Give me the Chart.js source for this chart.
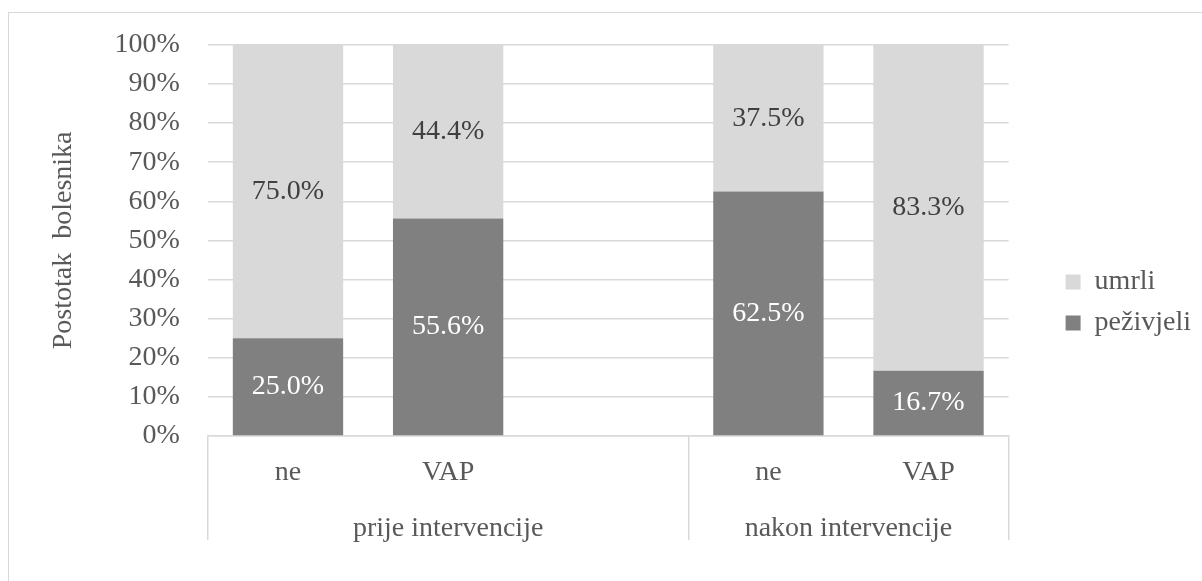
<!DOCTYPE html>
<html>
<head>
<meta charset="utf-8">
<script src="https://cdn.jsdelivr.net/npm/chart.js@4/dist/chart.umd.min.js"></script>
<style>
  html, body { margin: 0; padding: 0; background: #ffffff; overflow: hidden; }
  #frame { position: absolute; left: 8px; top: 12px; width: 1400px; height: 800px;
           border: 1.5px solid #d9d9d9; box-sizing: border-box; }
  #c { position: absolute; left: 0; top: 0; }
</style>
</head>
<body>
<div id="frame"></div>
<canvas id="c" width="1202" height="581"></canvas>
<script>
// ---- data ----
const groups = ['prije intervencije', 'nakon intervencije'];
const categories = ['ne', 'VAP', '', 'ne', 'VAP'];
const categoryGroup = [0, 0, 0, 1, 1];
const prezivjeli = [25.0, 55.6, null, 62.5, 16.7];
const umrli = [75.0, 44.4, null, 37.5, 83.3];
const seriesNames = ['peživjeli', 'umrli'];
const yTickValues = [0, 10, 20, 30, 40, 50, 60, 70, 80, 90, 100];
const yTitle = 'Postotak  bolesnika';

// ---- styling ----
const FONT = '"Liberation Serif", "Times New Roman", serif';
const FS = 28;
const TXT = '#595959';
const GRID = '#d9d9d9';
const DARK = '#808080';
const LIGHT = '#d9d9d9';

// group centres derived from category membership
const groupCenters = groups.map((g, gi) => {
  const idx = categoryGroup.map((v, i) => v === gi ? i : null).filter(v => v !== null);
  return (Math.min(...idx) + Math.max(...idx)) / 2;
});

const valueLabels = {
  id: 'valueLabels',
  afterDatasetsDraw(chart) {
    const ctx = chart.ctx;
    ctx.save();
    ctx.font = FS + 'px ' + FONT;
    ctx.textAlign = 'center';
    ctx.textBaseline = 'middle';
    chart.data.datasets.forEach((ds, di) => {
      const meta = chart.getDatasetMeta(di);
      meta.data.forEach((el, i) => {
        const v = ds.data[i];
        if (v === null || v === undefined) return;
        const p = el.getProps(['x', 'y', 'base'], true);
        ctx.fillStyle = ds.labelColor;
        ctx.fillText(v.toFixed(1) + '%', p.x, (p.y + p.base) / 2);
      });
    });
    ctx.restore();
  }
};

new Chart(document.getElementById('c'), {
  type: 'bar',
  data: {
    labels: categories,
    datasets: [
      { label: seriesNames[0], data: prezivjeli, backgroundColor: DARK, labelColor: '#ffffff',
        barPercentage: 0.689, categoryPercentage: 1.0 },
      { label: seriesNames[1], data: umrli, backgroundColor: LIGHT, labelColor: '#404040',
        barPercentage: 0.689, categoryPercentage: 1.0 }
    ]
  },
  options: {
    responsive: false,
    animation: false,
    devicePixelRatio: 1,
    layout: { padding: { left: 10, right: 1, top: 42, bottom: 18 } },
    plugins: {
      legend: {
        position: 'right',
        reverse: true,
        labels: {
          boxWidth: 15, boxHeight: 15, padding: 13,
          color: TXT, font: { family: FONT, size: FS }
        }
      },
      tooltip: { enabled: false }
    },
    scales: {
      x: {
        type: 'category',
        stacked: true,
        offset: true,
        grid: {
          offset: true,
          drawOnChartArea: false,
          drawTicks: true,
          tickLength: 104,
          lineWidth: 1.5,
          color: (c) => {
            if (c.type !== 'tick') return GRID;
            const i = c.index;
            return (i === 0 || categoryGroup[i] !== categoryGroup[i - 1]) ? GRID : 'rgba(0,0,0,0)';
          }
        },
        border: { display: true, color: GRID, width: 1.5 },
        ticks: { color: TXT, font: { family: FONT, size: FS }, padding: -84.5, maxRotation: 0, autoSkip: false },
        afterFit: (s) => { s.height = 50; }
      },
      x2: {
        type: 'linear',
        position: 'bottom',
        offset: false,
        min: -0.5,
        max: categories.length - 0.5,
        grid: { display: false, offset: false },
        border: { display: false },
        afterBuildTicks: (s) => { s.ticks = groupCenters.map(v => ({ value: v })); },
        ticks: {
          color: TXT, font: { family: FONT, size: FS }, padding: 17.5, maxRotation: 0, autoSkip: false,
          callback: (v) => groups[groupCenters.indexOf(v)]
        },
        afterFit: (s) => { s.height = 77; }
      },
      y: {
        stacked: true,
        min: 0,
        max: 100,
        afterBuildTicks: (s) => { s.ticks = yTickValues.map(v => ({ value: v })); },
        grid: { color: GRID, lineWidth: 1.5, drawTicks: false },
        border: { display: false },
        ticks: { color: TXT, font: { family: FONT, size: FS }, padding: 28, callback: (v) => v + '%' },
        title: { display: true, text: yTitle, color: TXT, font: { family: FONT, size: FS },
                 padding: { top: 37, bottom: 6 } }
      },
      yRightSpace: {
        type: 'linear',
        position: 'right',
        display: true,
        grid: { display: false },
        border: { display: false },
        ticks: { display: false },
        afterFit: (s) => { s.width = 44; }
      }
    }
  },
  plugins: [valueLabels]
});
</script>
</body>
</html>
